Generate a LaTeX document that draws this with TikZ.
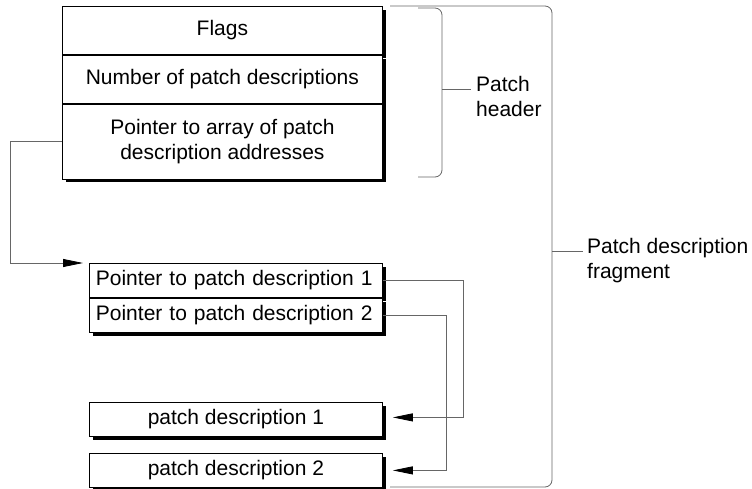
\documentclass[tikz,border=0pt]{standalone}
\usepackage{fontspec}
\setmainfont{Liberation Sans}
\usetikzlibrary{positioning,arrows.meta,shadows}

\begin{document}
\begin{tikzpicture}[x=1pt,y=-1pt,>={Triangle[length=20pt,width=8pt,color=black]},
   field/.style={draw,line width=0.8pt,fill=white,inner sep=0pt,align=center,
     minimum width=320pt,font=\fontsize{21}{25}\selectfont,
     drop shadow={shadow xshift=3.5pt,shadow yshift=-3.5pt,fill=black,opacity=1}},
   slot/.style={field,minimum width=0pt,text width=286pt,inner xsep=3.5pt,
     minimum height=34pt,align=left},
   record/.style={field,minimum width=293pt,minimum height=34pt},
   link/.style={draw=black!60,line width=0.8pt},
   bracket/.style={draw=black!60,line width=0.8pt,rounded corners=7pt},
   note/.style={inner sep=0pt,align=left,font=\fontsize{21}{25}\selectfont}]
   \useasboundingbox (0,0) rectangle (752,489);
   %header block
   \node[field,minimum height=48pt,anchor=north west] (flags) at (62,6) {Flags};
   \node[field,minimum height=48pt,below=0pt of flags] (count) {Number of patch descriptions};
   \node[field,minimum height=75pt,below=0pt of count] (array) {Pointer to array of patch\\description addresses};
   %pointer array
   \node[slot,anchor=north west] (ptr1) at (89,263) {\hspace*{3pt}Pointer to patch description 1};
   \node[slot,below=0pt of ptr1] (ptr2) {\hspace*{3pt}Pointer to patch description 2};
   %descriptions
   \node[record,anchor=north west] (desc1) at (89,402) {patch description 1};
   \node[record,anchor=north west] (desc2) at (89,453) {patch description 2};
   %links
   \draw[link,->] (array.west) -- ++(-52pt,0pt) |- ([xshift=-6pt]ptr1.north west);
   \draw[link,->] (ptr1.east) -- ++(81pt,0pt) |- ([xshift=10pt,yshift=2pt]desc1.east);
   \draw[link,->] (ptr2.east) -- ++(64pt,0pt) |- ([xshift=10pt]desc2.east);
   %patch header
   \draw[bracket] (418,8) -- (442,8) -- (442,177) -- (418,177);
   \coordinate (hdrtip) at (442,89);
   \node[note,anchor=north west] (hdrnote) at (476,76) {Patch\\header};
   \draw[link] (hdrtip) -- ([xshift=-5pt]hdrtip -| hdrnote.west);
   %fragment
   \draw[bracket] (390,6) -- (552,6) -- (552,487) -- (390,487);
   \coordinate (fragtip) at (552,251);
   \node[note,anchor=north west] (fragnote) at (587,238) {Patch description\\fragment};
   \draw[link] (fragtip) -- ([xshift=-4pt]fragtip -| fragnote.west);
\end{tikzpicture}
\end{document}
